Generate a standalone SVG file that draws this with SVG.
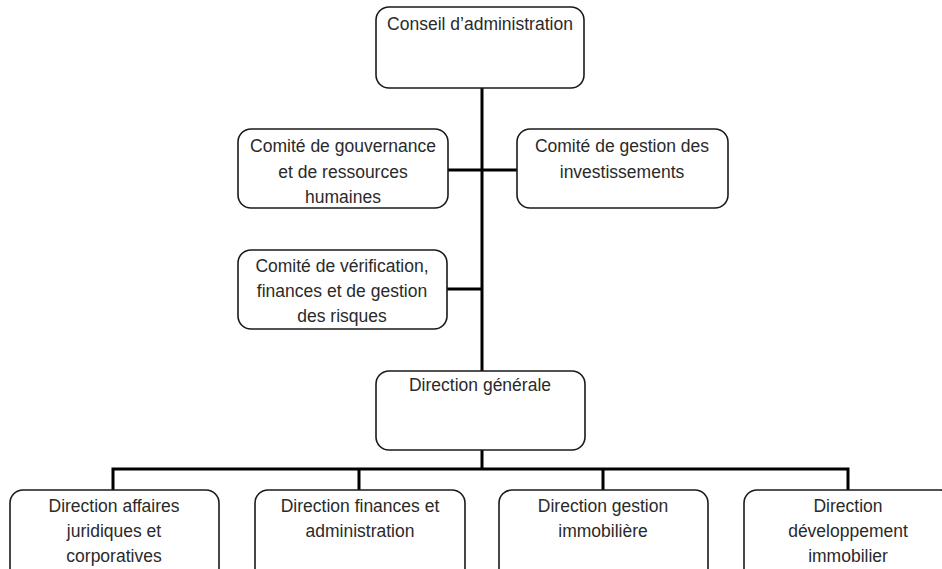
<svg xmlns="http://www.w3.org/2000/svg" width="942" height="569" viewBox="0 0 942 569">
<style>
.box{fill:#fff;stroke:#1a1a1a;stroke-width:1.6}
.t{font-family:"Liberation Sans",Arial,sans-serif;font-size:17.5px;fill:#2a2a2a;text-anchor:middle}
.c{fill:none;stroke:#000;stroke-width:3}
</style>
<rect width="942" height="569" fill="#fff"/>
<g id="connectors">
<line class="c" x1="482" y1="88" x2="482" y2="371"/>
<line class="c" x1="447" y1="170" x2="517" y2="170"/>
<line class="c" x1="447" y1="289" x2="482" y2="289"/>
<line class="c" x1="482" y1="450" x2="482" y2="469"/>
<polyline class="c" points="113,490 113,469 848,469 848,490"/>
<line class="c" x1="359" y1="469" x2="359" y2="490"/>
<line class="c" x1="603" y1="469" x2="603" y2="490"/>
</g>
<g id="conseil">
<rect class="box" x="376" y="7" width="208" height="81" rx="13"/>
<text class="t" x="480" y="30">Conseil d’administration</text>
</g>
<g id="comite-gouvernance">
<rect class="box" x="238" y="129" width="210" height="79" rx="13"/>
<text class="t" x="343" y="152">Comité de gouvernance</text>
<text class="t" x="343" y="178">et de ressources</text>
<text class="t" x="343" y="203">humaines</text>
</g>
<g id="comite-investissements">
<rect class="box" x="517" y="129" width="211" height="79" rx="13"/>
<text class="t" x="622" y="152">Comité de gestion des</text>
<text class="t" x="622" y="178">investissements</text>
</g>
<g id="comite-verification">
<rect class="box" x="238" y="250" width="209" height="79" rx="13"/>
<text class="t" x="342" y="272">Comité de vérification,</text>
<text class="t" x="342" y="297">finances et de gestion</text>
<text class="t" x="342" y="322">des risques</text>
</g>
<g id="direction-generale">
<rect class="box" x="376" y="371" width="209" height="79" rx="13"/>
<text class="t" x="480" y="391">Direction générale</text>
</g>
<g id="dir-juridiques">
<rect class="box" x="10" y="490" width="209" height="95" rx="13"/>
<text class="t" x="114" y="512">Direction affaires</text>
<text class="t" x="114" y="537">juridiques et</text>
<text class="t" x="114" y="562">corporatives</text>
</g>
<g id="dir-finances">
<rect class="box" x="255" y="490" width="210" height="95" rx="13"/>
<text class="t" x="360" y="512">Direction finances et</text>
<text class="t" x="360" y="537">administration</text>
</g>
<g id="dir-gestion-immo">
<rect class="box" x="499" y="490" width="209" height="95" rx="13"/>
<text class="t" x="603" y="512">Direction gestion</text>
<text class="t" x="603" y="537">immobilière</text>
</g>
<g id="dir-dev-immo">
<rect class="box" x="744" y="490" width="209" height="95" rx="13"/>
<text class="t" x="848" y="512">Direction</text>
<text class="t" x="848" y="537">développement</text>
<text class="t" x="848" y="562">immobilier</text>
</g>
</svg>
